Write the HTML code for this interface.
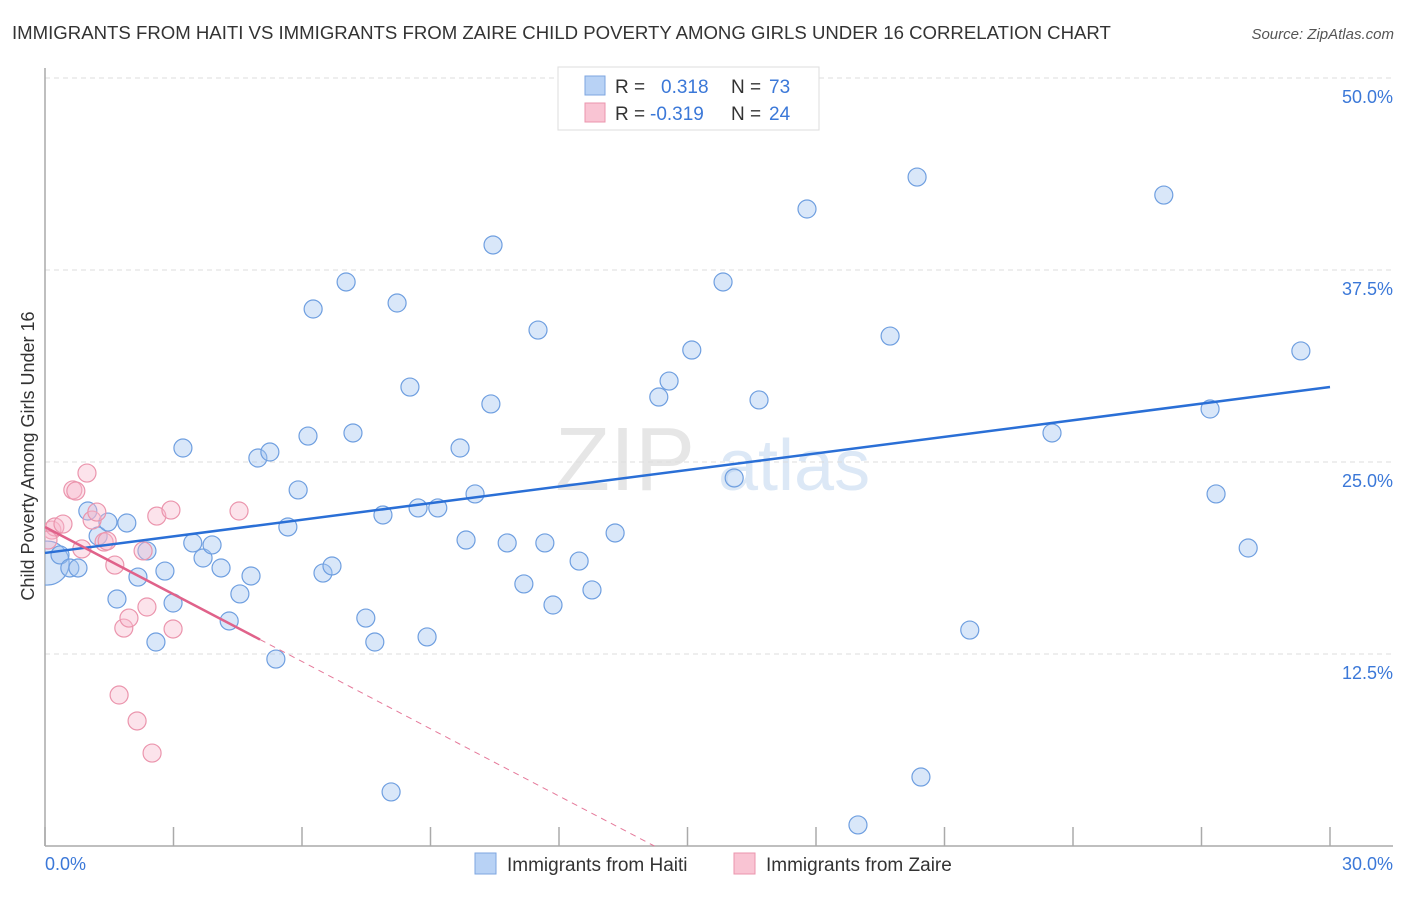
<!DOCTYPE html>
<html><head><meta charset="utf-8">
<style>
body{margin:0;background:#fff;font-family:"Liberation Sans",sans-serif;}
svg text{font-family:"Liberation Sans",sans-serif;}
</style></head>
<body>
<svg id="chart" width="1406" height="892" viewBox="0 0 1406 892" xmlns="http://www.w3.org/2000/svg">
<defs><clipPath id="plotclip"><rect x="45" y="60" width="1360" height="786"/></clipPath></defs>
<text x="12" y="39" font-size="18.6" fill="#333">IMMIGRANTS FROM HAITI VS IMMIGRANTS FROM ZAIRE CHILD POVERTY AMONG GIRLS UNDER 16 CORRELATION CHART</text>
<text x="1394" y="39" font-size="15" fill="#555" text-anchor="end" font-style="italic">Source: ZipAtlas.com</text>
<text x="555" y="490" font-size="90" fill="#e6e6e6" font-family="Liberation Serif">ZIP</text>
<text x="718" y="490" font-size="72" fill="#dce8f6">atlas</text>
<g id="grid"></g>
<g id="axes"></g>
<g id="pts" clip-path="url(#plotclip)"></g>
<g id="lines"></g>
<text transform="translate(34,456) rotate(-90)" font-size="18" fill="#333" text-anchor="middle">Child Poverty Among Girls Under 16</text>
<g>
<rect x="558" y="67" width="261" height="63" fill="#fff" stroke="#ddd"/>
<rect x="585" y="76" width="20" height="19" fill="#b8d2f5" stroke="#7ea6e0"/>
<rect x="585" y="103" width="20" height="19" fill="#f9c4d3" stroke="#eb95ad"/>
<text x="615" y="93" font-size="19" fill="#333">R =</text>
<text x="661" y="93" font-size="19" fill="#3b78d8">0.318</text>
<text x="731" y="93" font-size="19" fill="#333">N =</text>
<text x="769" y="93" font-size="19" fill="#3b78d8">73</text>
<text x="615" y="120" font-size="19" fill="#333">R =</text>
<text x="650" y="120" font-size="19" fill="#3b78d8">-0.319</text>
<text x="731" y="120" font-size="19" fill="#333">N =</text>
<text x="769" y="120" font-size="19" fill="#3b78d8">24</text>
</g>
<g>
<rect x="475" y="853" width="21" height="21" fill="#b8d2f5" stroke="#7ea6e0"/>
<text x="507" y="871" font-size="19" fill="#333">Immigrants from Haiti</text>
<rect x="734" y="853" width="21" height="21" fill="#f9c4d3" stroke="#eb95ad"/>
<text x="766" y="871" font-size="19" fill="#333">Immigrants from Zaire</text>
</g>
</svg>
<script>
const yTicks=[12.5,25,37.5,50];
const yTickLabels=["12.5%","25.0%","37.5%","50.0%"];
const xTickVals=[0,3,6,9,12,15,18,21,24,27,30];
const haitiX=[0.05,0.35,0.58,0.77,1.00,1.24,1.47,1.91,1.68,2.17,2.38,2.59,2.80,2.99,3.22,3.45,3.69,3.90,4.11,4.30,4.55,4.81,4.97,5.25,5.39,5.67,5.91,6.14,6.26,6.49,6.70,7.03,7.19,7.49,7.70,7.89,8.08,8.22,8.52,8.71,8.92,9.17,9.69,10.04,10.41,10.46,9.83,10.79,11.18,11.51,11.67,11.86,12.47,12.77,13.31,14.33,14.57,15.10,15.83,16.09,16.67,17.79,18.98,19.73,20.36,20.45,21.59,23.51,26.12,27.20,27.34,28.09,29.32];
const haitiY=[18.42,18.95,18.10,18.10,21.81,20.18,21.09,21.03,16.08,17.51,19.21,13.28,17.90,15.82,25.91,19.73,18.75,19.60,18.10,14.65,16.41,17.58,25.26,25.65,12.17,20.77,23.18,26.69,34.96,17.77,18.23,36.72,26.89,14.84,13.28,21.55,3.52,35.35,29.88,22.01,13.61,22.01,25.91,22.92,28.78,39.13,19.92,19.73,17.06,33.59,19.73,15.69,18.55,16.67,20.38,29.23,30.27,32.29,36.72,23.96,29.04,41.47,1.37,33.20,43.55,4.49,14.06,26.89,42.38,28.45,22.92,19.40,32.23];
const zaireX=[0.16,0.23,0.42,0.65,0.72,0.98,1.10,1.21,0.86,1.38,1.45,1.63,1.84,1.96,2.29,2.38,2.61,2.94,2.99,1.73,2.15,2.50,4.53,0.07];
const zaireY=[20.57,20.77,20.96,23.18,23.11,24.28,21.22,21.74,19.34,19.79,19.86,18.29,14.19,14.84,19.21,15.56,21.48,21.87,14.13,9.83,8.14,6.05,21.81,19.92];
const haitiTrend=[19.08,29.88];
const zaireTrend=[20.77,-1.46,5.02];
const NS="http://www.w3.org/2000/svg";
const X=v=>45+v/30*1285;
const Y=v=>846-v/12.5*192;
function mk(t,a,p){const e=document.createElementNS(NS,t);for(const k in a)e.setAttribute(k,a[k]);document.getElementById(p).appendChild(e);return e;}
yTicks.forEach((t,i)=>{
 const g=mk('line',{x1:45,x2:1393,y1:Y(t),y2:Y(t),stroke:'#ddd','stroke-dasharray':'5,4'},'grid');
 
 
 const l=mk('text',{x:1393,y:Y(t)+25,'font-size':18,fill:'#3b78d8','text-anchor':'end'},'axes');
 l.textContent=yTickLabels[i];
 
 
});
let a=mk('line',{x1:45,x2:45,y1:68,y2:846,stroke:'#aaa','stroke-width':1.5},'axes');


a=mk('line',{x1:45,x2:1393,y1:846,y2:846,stroke:'#aaa','stroke-width':1.5},'axes');


xTickVals.forEach(t=>{const e=mk('line',{x1:X(t),x2:X(t),y1:827,y2:846,stroke:'#aaa','stroke-width':1.5},'axes');
 
 });
let t=mk('text',{x:45,y:870,'font-size':18,fill:'#3b78d8'},'axes');t.textContent='0.0%';


t=mk('text',{x:1393,y:870,'font-size':18,fill:'#3b78d8','text-anchor':'end'},'axes');t.textContent='30.0%';


haitiX.forEach((x,i)=>{const c=mk('circle',{cx:X(x),cy:Y(haitiY[i]),r:i===0?22:9,fill:'rgba(160,195,240,0.4)',stroke:'#6f9fe0','stroke-width':1.2},'pts');
 
 });
zaireX.forEach((x,i)=>{const c=mk('circle',{cx:X(x),cy:Y(zaireY[i]),r:9,fill:'rgba(248,185,205,0.4)',stroke:'#eb95ad','stroke-width':1.2},'pts');
 
 });
let ln=mk('line',{x1:X(0),y1:Y(haitiTrend[0]),x2:X(30),y2:Y(haitiTrend[1]),stroke:'#2a6fd6','stroke-width':2.5},'lines');


const zy=x=>zaireTrend[0]+zaireTrend[1]*x;
const xEnd=-zaireTrend[0]/zaireTrend[1];
ln=mk('line',{x1:X(zaireTrend[2]),y1:Y(zy(zaireTrend[2])),x2:X(xEnd),y2:Y(0),stroke:'#e5799a','stroke-width':1,'stroke-dasharray':'6,5'},'lines');


ln=mk('line',{x1:X(0),y1:Y(zy(0)),x2:X(zaireTrend[2]),y2:Y(zy(zaireTrend[2])),stroke:'#e0628a','stroke-width':2.5},'lines');


</script>
</body></html>
